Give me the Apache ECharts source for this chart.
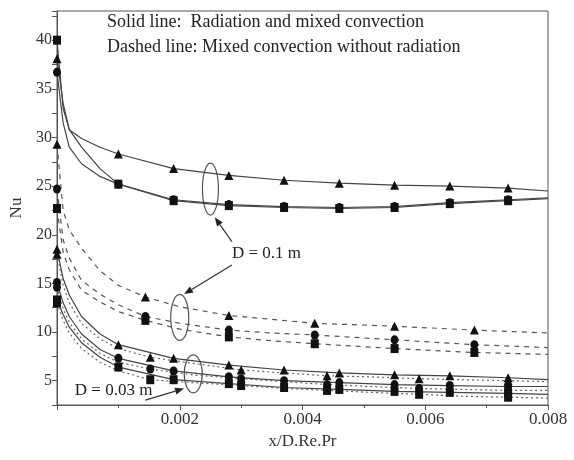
<!DOCTYPE html>
<html>
<head>
<meta charset="utf-8">
<script src="https://cdn.jsdelivr.net/npm/echarts@6/dist/echarts.min.js"></script>
<style>
  html, body { margin: 0; padding: 0; background: #fff; }
  #chart { width: 574px; height: 460px; }
</style>
</head>
<body>
<div id="chart"></div>
<script>
// x positions (x/D.Re.Pr) for each group of curves
const xSolid = [0, 0.0001, 0.0002, 0.0004, 0.0007, 0.001, 0.0019, 0.0028, 0.0037, 0.0046, 0.0055, 0.0064, 0.00735, 0.008]
const xDash01 = [0, 0.0001, 0.0002, 0.0004, 0.0007, 0.001, 0.00144, 0.002, 0.0028, 0.0035, 0.0042, 0.0055, 0.0068, 0.008]
const xDash03 = [0, 0.0001, 0.0002, 0.0004, 0.0007, 0.001, 0.00152, 0.0022, 0.003, 0.0037, 0.0044, 0.0051, 0.0059, 0.0066, 0.00735, 0.008]

// where markers sit on each group
const markSolid = [0, 0.001, 0.0019, 0.0028, 0.0037, 0.0046, 0.0055, 0.0064, 0.00735]
const markDash01 = [0, 0.00144, 0.0028, 0.0042, 0.0055, 0.0068]
const markDash03 = [0, 0.00152, 0.003, 0.0044, 0.0059, 0.00735]

// D = 0.1 m, radiation and mixed convection (solid)
const solidTri01 = [38.1, 33.5, 30.8, 29.9, 29.0, 28.3, 26.8, 26.1, 25.6, 25.3, 25.1, 25.0, 24.8, 24.5]
const solidCir01 = [36.7, 31.5, 29.0, 27.3, 26.0, 25.2, 23.6, 23.1, 22.9, 22.8, 22.9, 23.3, 23.6, 23.8]
const solidSq01 = [40.0, 33.0, 30.8, 29.0, 26.8, 25.2, 23.5, 23.0, 22.8, 22.7, 22.8, 23.2, 23.5, 23.7]

// D = 0.1 m, mixed convection without radiation (dashed)
const dashTri01 = [29.3, 22.5, 20.5, 18.6, 16.3, 14.8, 13.6, 12.6, 11.7, 11.3, 10.9, 10.6, 10.2, 9.9]
const dashCir01 = [24.7, 19.5, 17.6, 15.3, 13.9, 12.8, 11.6, 10.9, 10.2, 9.9, 9.7, 9.2, 8.7, 8.4]
const dashSq01 = [22.7, 18.2, 16.4, 14.3, 13.1, 12.1, 11.2, 10.3, 9.5, 9.1, 8.8, 8.3, 7.9, 7.7]

// D = 0.03 m, radiation and mixed convection (solid)
const solidTri03 = [18.5, 15.5, 13.8, 11.6, 9.8, 8.7, 7.3, 6.6, 6.1, 5.8, 5.6, 5.5, 5.3, 5.1]
const solidCir03 = [15.1, 13.0, 11.6, 9.8, 8.2, 7.3, 6.0, 5.4, 5.0, 4.8, 4.6, 4.5, 4.4, 4.4]
const solidSq03 = [13.3, 11.8, 10.5, 8.9, 7.4, 6.4, 5.1, 4.7, 4.3, 4.1, 3.9, 3.8, 3.7, 3.6]

// D = 0.03 m, mixed convection without radiation (dashed)
const dashTri03 = [18.0, 14.8, 13.0, 10.9, 9.3, 8.3, 7.4, 6.8, 6.1, 5.8, 5.5, 5.4, 5.2, 5.1, 5.0, 4.9]
const dashCir03 = [14.6, 12.4, 11.0, 9.3, 7.8, 6.9, 6.2, 5.6, 5.2, 4.9, 4.6, 4.4, 4.2, 4.1, 4.0, 4.0]
const dashSq03 = [13.0, 11.2, 9.9, 8.3, 6.9, 6.0, 5.1, 4.8, 4.5, 4.2, 4.0, 3.8, 3.6, 3.4, 3.3, 3.2]

// annotation anchors in data units
const ellipseCenters = [[0.0025, 24.7], [0.002, 11.5], [0.00222, 5.7]]
const arrowFrom = [[0.00285, 19.3], [0.00285, 16.9], [0.00144, 3.0]]
const arrowTo = [[0.00257, 21.8], [0.00207, 13.9], [0.00207, 4.2]]
const labelTexts = ['D = 0.1 m', 'D = 0.03 m']
const labelAt = [[0.00285, 18.1], [0.00029, 4.0]]
const noteLines = ['Solid line:  Radiation and mixed convection', 'Dashed line: Mixed convection without radiation']

const FONT = '"Liberation Serif", "DejaVu Serif", serif'

function makeSeries(xs, ys, marks, symbol, dash, color) {
  return {
    type: 'line',
    showAllSymbol: true,
    symbolSize: symbol === 'triangle' ? [9, 9] : [8, 9],
    lineStyle: { color: color, width: 1.2, type: dash },
    itemStyle: { color: '#111' },
    emphasis: { disabled: true },
    animation: false,
    data: xs.map((x, i) => ({
      value: [x, ys[i]],
      symbol: marks.indexOf(x) >= 0 ? symbol : 'none'
    }))
  }
}

const chart = echarts.init(document.getElementById('chart'))

chart.setOption({
  backgroundColor: '#fff',
  grid: {
    left: 57,
    right: 26,
    top: 11,
    bottom: 55,
    show: true,
    borderColor: '#555',
    borderWidth: 1
  },
  xAxis: {
    type: 'value',
    min: 0,
    max: 0.008,
    interval: 0.002,
    name: 'x/D.Re.Pr',
    nameLocation: 'middle',
    nameGap: 28,
    nameTextStyle: { fontFamily: FONT, fontSize: 17, color: '#333' },
    axisLine: { lineStyle: { color: '#555' } },
    axisTick: { inside: false, length: 5, lineStyle: { color: '#555' } },
    minorTick: { show: true, splitNumber: 2, length: 3, lineStyle: { color: '#555' } },
    splitLine: { show: false },
    axisLabel: {
      fontFamily: FONT,
      fontSize: 17,
      color: '#333',
      margin: 6,
      formatter: v => {
        const k = Math.round(v * 1000)
        return k > 0 ? (k / 1000).toFixed(3) : ''
      }
    }
  },
  yAxis: {
    type: 'value',
    min: 2.5,
    max: 43,
    interval: 2.5,
    name: 'Nu',
    nameLocation: 'middle',
    nameGap: 28,
    nameTextStyle: { fontFamily: FONT, fontSize: 17, color: '#333' },
    axisLine: { show: true, lineStyle: { color: '#555' } },
    axisTick: { inside: false, length: 5, lineStyle: { color: '#555' } },
    splitLine: { show: false },
    axisLabel: {
      fontFamily: FONT,
      fontSize: 16,
      color: '#333',
      margin: 5,
      formatter: v => {
        const k = Math.round(v * 10)
        return (k % 50 === 0 && k > 0 && k <= 400) ? String(k / 10) : ''
      }
    }
  },
  series: [
    makeSeries(xSolid, solidTri01, markSolid, 'triangle', 'solid', '#444'),
    makeSeries(xSolid, solidCir01, markSolid, 'circle', 'solid', '#444'),
    makeSeries(xSolid, solidSq01, markSolid, 'rect', 'solid', '#444'),
    makeSeries(xDash01, dashTri01, markDash01, 'triangle', [5, 5], '#555'),
    makeSeries(xDash01, dashCir01, markDash01, 'circle', [5, 5], '#555'),
    makeSeries(xDash01, dashSq01, markDash01, 'rect', [5, 5], '#555'),
    makeSeries(xSolid, solidTri03, markSolid, 'triangle', 'solid', '#444'),
    makeSeries(xSolid, solidCir03, markSolid, 'circle', 'solid', '#444'),
    makeSeries(xSolid, solidSq03, markSolid, 'rect', 'solid', '#444'),
    makeSeries(xDash03, dashTri03, markDash03, 'triangle', [2, 3], '#666'),
    makeSeries(xDash03, dashCir03, markDash03, 'circle', [2, 3], '#666'),
    makeSeries(xDash03, dashSq03, markDash03, 'rect', [2, 3], '#666')
  ]
})

// ellipses, arrows and notes placed from data coordinates
const px = p => chart.convertToPixel({ gridIndex: 0 }, p)
const ellipseSize = [[8, 26], [9, 23], [9, 19]]
const elements = []

ellipseCenters.forEach((c, i) => {
  const p = px(c)
  elements.push({
    type: 'ellipse',
    shape: { cx: p[0], cy: p[1], rx: ellipseSize[i][0], ry: ellipseSize[i][1] },
    style: { fill: null, stroke: '#555', lineWidth: 1.2 }
  })
})

arrowFrom.forEach((f, i) => {
  const a = px(f)
  const b = px(arrowTo[i])
  const ang = Math.atan2(b[1] - a[1], b[0] - a[0])
  const len = 9
  const w = 3.5
  const bx = b[0] - len * Math.cos(ang)
  const by = b[1] - len * Math.sin(ang)
  elements.push({
    type: 'line',
    shape: { x1: a[0], y1: a[1], x2: bx, y2: by },
    style: { stroke: '#333', lineWidth: 1.2 }
  })
  elements.push({
    type: 'polygon',
    shape: {
      points: [
        b,
        [bx + w * Math.sin(ang), by - w * Math.cos(ang)],
        [bx - w * Math.sin(ang), by + w * Math.cos(ang)]
      ]
    },
    style: { fill: '#222' }
  })
})

labelTexts.forEach((t, i) => {
  const p = px(labelAt[i])
  elements.push({
    type: 'text',
    x: p[0],
    y: p[1],
    style: { text: t, font: '17px ' + FONT, fill: '#222', textVerticalAlign: 'middle' }
  })
})

noteLines.forEach((t, i) => {
  elements.push({
    type: 'text',
    x: 107,
    y: 22 + i * 25,
    style: { text: t, font: '18px ' + FONT, fill: '#222', textVerticalAlign: 'middle' }
  })
})

chart.setOption({ graphic: { elements: elements } })
</script>
</body>
</html>
